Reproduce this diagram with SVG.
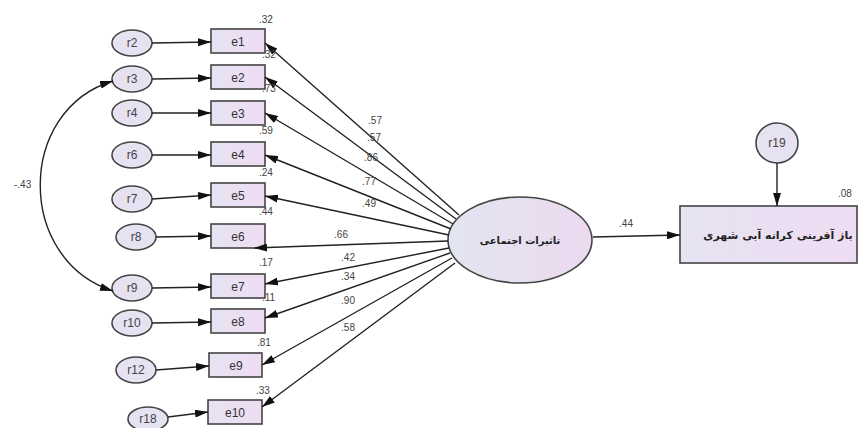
<svg xmlns="http://www.w3.org/2000/svg" width="858" height="428" viewBox="0 0 858 428">
<defs>
<linearGradient id="gBox" x1="0" y1="0" x2="1" y2="0">
<stop offset="0" stop-color="#e6e3f2"/><stop offset="1" stop-color="#efdcf3"/>
</linearGradient>
<linearGradient id="gEll" x1="0" y1="0" x2="1" y2="0">
<stop offset="0" stop-color="#e2e5f1"/><stop offset="1" stop-color="#ecd9ef"/>
</linearGradient>
<marker id="ah" viewBox="0 0 13 8" refX="13" refY="4" markerWidth="13" markerHeight="8" markerUnits="userSpaceOnUse" orient="auto-start-reverse">
<path d="M0,0 L13,4 L0,8 Z" fill="#111"/>
</marker>
<style>
.box{fill:url(#gBox);stroke:#444;stroke-width:1.6}
.err{fill:#e6e2f2;stroke:#444;stroke-width:1.6}
.lbl{font-family:"Liberation Sans",Arial,sans-serif;font-size:12px;fill:#333;text-anchor:middle}
.rl{font-size:12px;fill:#444}
.num{font-family:"Liberation Sans",Arial,sans-serif;font-size:10px;fill:#444}
.pnum{font-family:"Liberation Sans",Arial,sans-serif;font-size:10px;fill:#444;text-anchor:middle}
.fa{font-family:"DejaVu Sans","Noto Sans",sans-serif;font-weight:bold;fill:#222;text-anchor:middle}
.c{stroke:#222;stroke-width:1.4;fill:none;marker-end:url(#ah)}
</style>
</defs>
<rect width="858" height="428" fill="#ffffff"/>

<g id="r2"><ellipse class="err" cx="132" cy="43" rx="20" ry="13"/><text class="lbl rl" x="132" y="47">r2</text></g>
<g id="r3"><ellipse class="err" cx="132" cy="79" rx="20" ry="13"/><text class="lbl rl" x="132" y="83">r3</text></g>
<g id="r4"><ellipse class="err" cx="132" cy="113" rx="20" ry="13"/><text class="lbl rl" x="132" y="117">r4</text></g>
<g id="r6"><ellipse class="err" cx="132" cy="155" rx="20" ry="13"/><text class="lbl rl" x="132" y="159">r6</text></g>
<g id="r7"><ellipse class="err" cx="132" cy="199" rx="20" ry="13"/><text class="lbl rl" x="132" y="203">r7</text></g>
<g id="r8"><ellipse class="err" cx="136" cy="237" rx="20" ry="13"/><text class="lbl rl" x="136" y="241">r8</text></g>
<g id="r9"><ellipse class="err" cx="132" cy="288" rx="20" ry="13"/><text class="lbl rl" x="132" y="292">r9</text></g>
<g id="r10"><ellipse class="err" cx="132" cy="323" rx="20" ry="13"/><text class="lbl rl" x="132" y="327">r10</text></g>
<g id="r12"><ellipse class="err" cx="136" cy="370" rx="20" ry="13"/><text class="lbl rl" x="136" y="374">r12</text></g>
<g id="r18"><ellipse class="err" cx="148" cy="419" rx="20" ry="12"/><text class="lbl rl" x="148" y="423">r18</text></g>
<g id="r19"><ellipse class="err" cx="777" cy="143" rx="21" ry="20"/><text class="lbl rl" x="777" y="147">r19</text></g>

<g id="e1"><rect class="box" x="211" y="29" width="54" height="24"/><text class="lbl" x="238" y="46">e1</text></g>
<g id="e2"><rect class="box" x="211" y="65" width="54" height="24"/><text class="lbl" x="238" y="82">e2</text></g>
<g id="e3"><rect class="box" x="211" y="101" width="54" height="24"/><text class="lbl" x="238" y="118">e3</text></g>
<g id="e4"><rect class="box" x="211" y="142" width="54" height="24"/><text class="lbl" x="238" y="159">e4</text></g>
<g id="e5"><rect class="box" x="211" y="183" width="54" height="24"/><text class="lbl" x="238" y="200">e5</text></g>
<g id="e6"><rect class="box" x="211" y="224" width="54" height="24"/><text class="lbl" x="238" y="241">e6</text></g>
<g id="e7"><rect class="box" x="211" y="274" width="54" height="24"/><text class="lbl" x="238" y="291">e7</text></g>
<g id="e8"><rect class="box" x="211" y="309" width="54" height="24"/><text class="lbl" x="238" y="326">e8</text></g>
<g id="e9"><rect class="box" x="209" y="353" width="53" height="24"/><text class="lbl" x="236" y="370">e9</text></g>
<g id="e10"><rect class="box" x="208" y="400" width="54" height="24"/><text class="lbl" x="235" y="417">e10</text></g>

<g id="latent"><ellipse cx="520" cy="240" rx="72" ry="43" fill="url(#gEll)" stroke="#444" stroke-width="1.6"/><text class="fa" x="520" y="244" style="font-size:10px">تاثیرات اجتماعی</text></g>
<g id="outcome"><rect x="680" y="206" width="177" height="57" fill="url(#gBox)" stroke="#444" stroke-width="1.6"/><text class="fa" x="778" y="239" style="font-size:11px">باز آفرینی کرانه آبی شهری</text></g>

<g id="connectors">
<line class="c" x1="152" y1="43" x2="211" y2="42"/>
<line class="c" x1="152" y1="79" x2="211" y2="78"/>
<line class="c" x1="152" y1="113" x2="211" y2="113"/>
<line class="c" x1="152" y1="155" x2="211" y2="155"/>
<line class="c" x1="152" y1="199" x2="211" y2="195"/>
<line class="c" x1="156" y1="237" x2="211" y2="236"/>
<line class="c" x1="152" y1="288" x2="211" y2="287"/>
<line class="c" x1="152" y1="323" x2="211" y2="322"/>
<line class="c" x1="156" y1="370" x2="209" y2="366"/>
<line class="c" x1="168" y1="417" x2="208" y2="412"/>
<path class="c" d="M113,81 C16,110 16,260 113,291" marker-start="url(#ah)"/>
<line class="c" x1="459" y1="215" x2="265" y2="43"/>
<line class="c" x1="456" y1="219" x2="265" y2="77"/>
<line class="c" x1="453" y1="224" x2="265" y2="113"/>
<line class="c" x1="451" y1="229" x2="265" y2="155"/>
<line class="c" x1="449" y1="235" x2="265" y2="196"/>
<line class="c" x1="448" y1="241" x2="254" y2="248"/>
<line class="c" x1="449" y1="248" x2="265" y2="284"/>
<line class="c" x1="450" y1="253" x2="265" y2="318"/>
<line class="c" x1="452" y1="258" x2="262" y2="365"/>
<line class="c" x1="455" y1="263" x2="262" y2="407"/>
<line class="c" x1="593" y1="237" x2="680" y2="235"/>
<line class="c" x1="777" y1="163" x2="777" y2="206"/>
</g>

<g id="labels">
<text class="num" x="259" y="23">.32</text>
<text class="num" x="262" y="58">.32</text>
<text class="num" x="262" y="92">.73</text>
<text class="num" x="259" y="134">.59</text>
<text class="num" x="259" y="176">.24</text>
<text class="num" x="259" y="215">.44</text>
<text class="num" x="259" y="266">.17</text>
<text class="num" x="262" y="301">.11</text>
<text class="num" x="257" y="346">.81</text>
<text class="num" x="256" y="394">.33</text>
<text class="num" x="838" y="197">.08</text>
<text class="num" x="14" y="188">-.43</text>
<text class="pnum" x="375" y="124">.57</text>
<text class="pnum" x="374" y="141">.57</text>
<text class="pnum" x="371" y="161">.86</text>
<text class="pnum" x="369" y="185">.77</text>
<text class="pnum" x="369" y="207">.49</text>
<text class="pnum" x="341" y="238">.66</text>
<text class="pnum" x="348" y="261">.42</text>
<text class="pnum" x="348" y="280">.34</text>
<text class="pnum" x="348" y="304">.90</text>
<text class="pnum" x="348" y="331">.58</text>
<text class="pnum" x="626" y="227">.44</text>
</g>
</svg>
